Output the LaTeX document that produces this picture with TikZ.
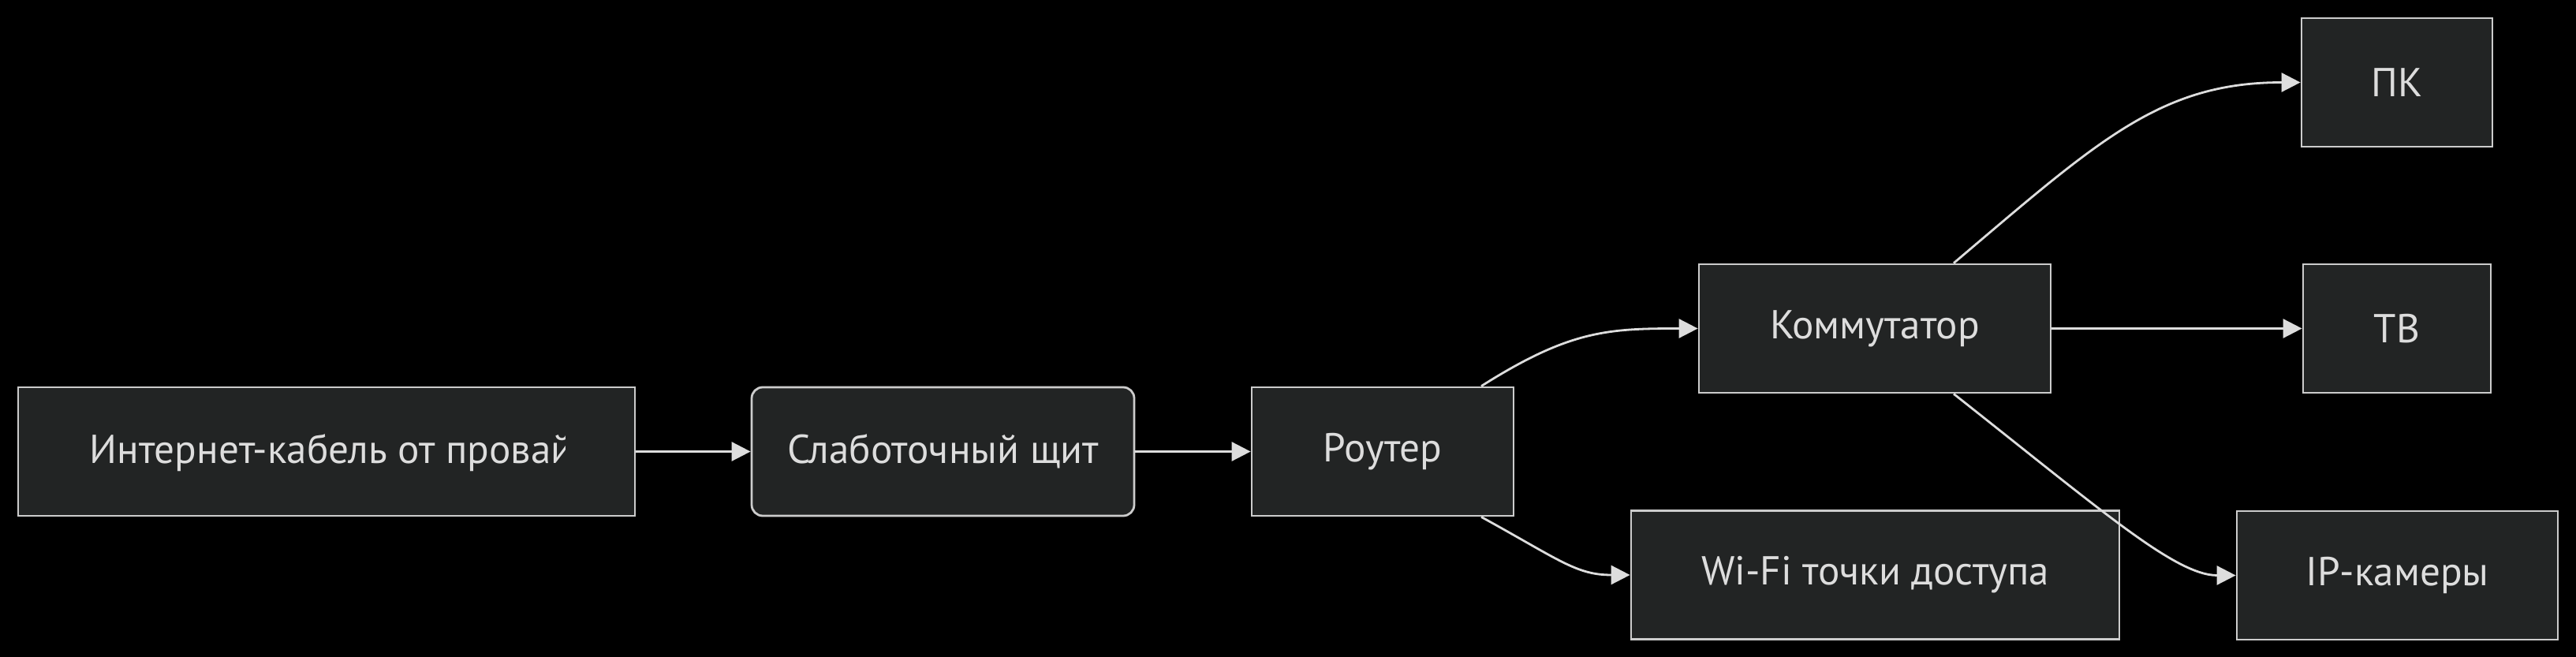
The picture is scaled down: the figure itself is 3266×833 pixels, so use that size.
\documentclass[tikz,border=0pt]{standalone}
\usepackage{fontspec}
\setmainfont{PT Sans}
\usetikzlibrary{arrows.meta}
\definecolor{bg}{HTML}{000000}
\definecolor{boxfill}{HTML}{222424}
\definecolor{boxline}{HTML}{CCCCCC}
\definecolor{txt}{HTML}{DDDDDD}
\definecolor{edgecol}{HTML}{DDDDDD}
\begin{document}
\begin{tikzpicture}[x=0.25pt,y=-0.25pt,
  box/.style={draw=boxline, fill=boxfill, line width=0.7pt, minimum height=40.75pt,
    inner sep=0pt, text=txt, font=\fontsize{12.8}{15}\selectfont},
  rbox/.style={box, rounded corners=3.5pt},
  lbl/.style={inner sep=0pt, text=txt, font=\fontsize{12.8}{15}\selectfont},
  link/.style={draw=edgecol, line width=0.7pt, -{Triangle[length=6pt,width=6pt]}}]
\fill[bg] (0,0) rectangle (3266,833);
\useasboundingbox (0,0) rectangle (3266,833);

\node[box, minimum width=195.5pt] (inet) at (414,572.5) {};
\begin{scope}
  \clip (23,491) rectangle (716,654);
  \node[lbl, anchor=west] (inettxt) at (113,574) {Интернет-кабель от провай};
\end{scope}
\node[rbox, minimum width=121.25pt] (shield) at (1195.5,572.5) {\raisebox{-1pt}{Слаботочный щит}};
\node[box, minimum width=83pt] (router) at (1753,572.5) {\raisebox{-1pt}{Роутер}};
\node[box, minimum width=111.5pt] (switch) at (2377,416.5) {\raisebox{-1pt}{Коммутатор}};
\node[box, minimum width=154.75pt] (wifi) at (2377.5,729) {\raisebox{-1pt}{Wi-Fi точки доступа}};
\node[box, minimum width=60.5pt] (pc) at (3039,104.5) {\raisebox{-1pt}{ПК}};
\node[box, minimum width=59.5pt] (tv) at (3039,416.5) {\raisebox{-1pt}{ТВ}};
\node[box, minimum width=101.75pt] (ip) at (3039.5,729.5) {\raisebox{-1pt}{IP-камеры}};

\draw[link] (inet.east) -- (shield.west);
\draw[link] (shield.east) -- (router.west);
\draw[link] ([xshift=31.25pt]router.north) .. controls +(112,-71) and +(-114,0) .. (switch.west);
\draw[link] ([xshift=31.25pt]router.south) .. controls +(100,55) and +(-68,0) .. (wifi.west);
\draw[link] ([xshift=25pt]switch.north) .. controls +(183,-155) and +(-178,0) .. (pc.west);
\draw[link] (switch.east) -- (tv.west);
\draw[link] ([xshift=25pt]switch.south) .. controls +(190,150) and +(-76,0) .. (ip.west);
\end{tikzpicture}
\end{document}
